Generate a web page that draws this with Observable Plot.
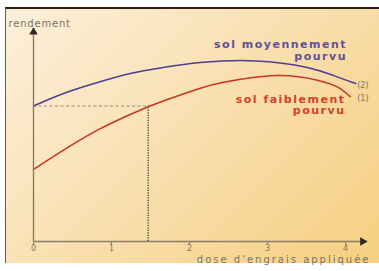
<!DOCTYPE html>
<html><head><meta charset="utf-8">
<script src="https://cdn.jsdelivr.net/npm/d3@7"></script>
<script src="https://cdn.jsdelivr.net/npm/@observablehq/plot@0.6"></script>
<style>
html,body{margin:0;padding:0;background:#fff;width:379px;height:271px;overflow:hidden;}
#frame{position:absolute;left:5px;top:7px;width:374px;height:256px;box-sizing:border-box;
 border-top:2px solid #2b1d12;border-left:1px solid #6b5a48;
 background:linear-gradient(135deg,#fcefda 0%,#fae4bc 35%,#f8daa0 65%,#f5d080 100%);}
#chart{position:absolute;left:0;top:0;}
</style></head>
<body><div id="frame"></div><div id="chart"></div>
<script>
// Dose d'engrais (x) and rendement (arbitrary units, y)
const doseMoyen = [0, 0.385, 0.82, 1.24, 1.67, 2.14, 2.85, 3.51, 3.85, 4.13];
const rendMoyen = [6.45, 7.05, 7.57, 8.0, 8.29, 8.52, 8.6, 8.29, 7.9, 7.52];
const doseFaible = [0, 0.385, 0.82, 1.24, 1.67, 2.14, 2.44, 3.1, 3.64, 3.9, 4.06];
const rendFaible = [3.43, 4.35, 5.3, 6.05, 6.7, 7.3, 7.58, 7.9, 7.68, 7.35, 6.9];
const xTicks = [0, 1, 2, 3, 4];
const doseRef = 1.47;
const rendRef = 6.45;

const moyen = doseMoyen.map((d, i) => ({x: d, y: rendMoyen[i]}));
const faible = doseFaible.map((d, i) => ({x: d, y: rendFaible[i]}));

const axisColor = "#8c7d66";
const textColor = "#7d7262";
const blue = "#4b3f8e";
const red = "#c8331f";

const plot = Plot.plot({
  width: 379, height: 271,
  marginLeft: 33, marginRight: 34, marginTop: 31, marginBottom: 30,
  x: {domain: [0, 4]},
  y: {domain: [0, 10], axis: null},
  style: {background: "transparent", fontFamily: "DejaVu Sans"},
  marks: [
    Plot.ruleY([rendRef], {x1: 0, x2: doseRef, stroke: "#958a78", strokeWidth: 1, strokeDasharray: "3,2.5"}),
    Plot.ruleX([doseRef], {y1: 0, y2: rendRef, stroke: "#3d3a35", strokeWidth: 1.3, strokeDasharray: "1.2,1.3"}),
    Plot.line(moyen, {x: "x", y: "y", curve: "natural", stroke: blue, strokeWidth: 1.5}),
    Plot.line(faible, {x: "x", y: "y", curve: "natural", stroke: red, strokeWidth: 1.5}),
    Plot.ruleY([0], {x1: 0, x2: 4.2, stroke: axisColor, strokeWidth: 1.4}),
    Plot.ruleX([0], {y1: 0, y2: 9.95, stroke: axisColor, strokeWidth: 1.4}),
    Plot.dot([{x: 4.22, y: 0}], {x: "x", y: "y", symbol: "triangle", r: 3.2, fill: "#2e2620", stroke: "none", rotate: 90}),
    Plot.dot([{x: 0, y: 9.97}], {x: "x", y: "y", symbol: "triangle", r: 3.2, fill: "#2e2620", stroke: "none"}),
    Plot.axisX(xTicks, {tickSize: 3, tickPadding: 1, stroke: axisColor, fill: textColor, fontSize: 8, label: null}),
    Plot.text(["rendement"], {frameAnchor: "top-left", dx: -25, dy: -8, fill: textColor, fontSize: 10, textAnchor: "start", lineAnchor: "middle"}),
    Plot.text(["dose d'engrais appliquée"], {frameAnchor: "bottom-right", dx: 25, dy: 18, fill: textColor, fontSize: 10, textAnchor: "end", lineAnchor: "middle"}),
    Plot.text(["sol moyennement\npourvu"], {x: 4.02, y: 9.1, fill: "#5f509c", fontSize: 11, fontWeight: "bold", textAnchor: "end", lineHeight: 1.05, lineAnchor: "middle"}),
    Plot.text(["sol faiblement\npourvu"], {x: 4.0, y: 6.5, fill: "#d2412c", fontSize: 11, fontWeight: "bold", textAnchor: "end", lineHeight: 1.05, lineAnchor: "middle"}),
    Plot.text(["(2)"], {x: 4.15, y: 7.45, fill: textColor, fontSize: 8, textAnchor: "start", lineAnchor: "middle"}),
    Plot.text(["(1)"], {x: 4.15, y: 6.8, fill: textColor, fontSize: 8, textAnchor: "start", lineAnchor: "middle"})
  ]
});
// letter spacing to mimic the wide lettering of the original
d3.select(plot).selectAll("text").each(function() {
  const t = this.textContent;
  let ls = null;
  if (t.startsWith("rendement")) ls = 0.8;
  else if (t.startsWith("dose")) ls = 2;
  else if (t.startsWith("sol")) ls = 1.5;
  if (ls !== null) this.style.letterSpacing = ls + "px";
});
document.getElementById("chart").appendChild(plot);
</script></body></html>
